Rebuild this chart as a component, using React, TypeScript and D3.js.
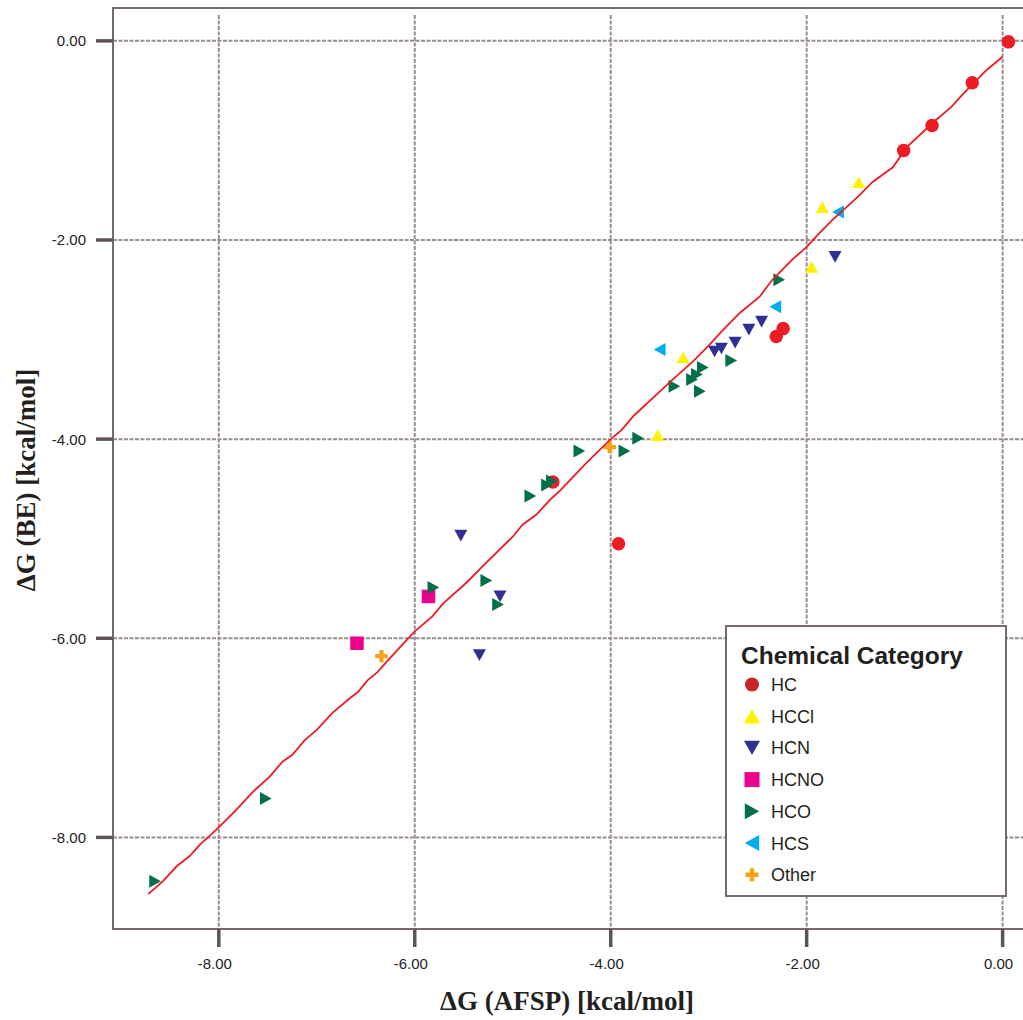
import React from "react";
import * as d3 from "d3";

const W = 1023;
const H = 1020;

// ---- data ----
const categories = ["HC", "HCCl", "HCN", "HCNO", "HCO", "HCS", "Other"];
const colors = ["#ec1c24", "#fff200", "#2e3192", "#ec008c", "#00704a", "#00aeef", "#f7a21b"];
const legendColors = ["#cc2229", "#fff200", "#2e3192", "#ec008c", "#00704a", "#00aeef", "#f7a21b"];
const symbolsKind = ["circle", "up", "down", "square", "right", "left", "plus"];

const hcX = [0.06, -0.31, -0.72, -1.01, -2.24, -2.31, -4.59, -3.92];
const hcY = [-0.01, -0.42, -0.85, -1.10, -2.89, -2.97, -4.43, -5.05];

const hcclX = [-1.47, -1.84, -1.95, -3.26, -3.52];
const hcclY = [-1.42, -1.67, -2.27, -3.18, -3.96];

const hcnX = [-1.71, -2.46, -2.59, -2.73, -2.87, -2.94, -5.53, -5.13, -5.34];
const hcnY = [-2.17, -2.82, -2.90, -3.03, -3.09, -3.12, -4.97, -5.58, -6.17];

const hcnoX = [-5.86, -6.59];
const hcnoY = [-5.58, -6.05];

const hcoX = [-8.65, -7.52, -5.81, -5.27, -5.15, -4.82, -4.65, -4.60, -4.32, -3.86, -3.72, -3.35, -3.17, -3.12, -3.06, -3.09, -2.77, -2.28];
const hcoY = [-8.44, -7.61, -5.49, -5.42, -5.66, -4.57, -4.46, -4.42, -4.12, -4.12, -3.99, -3.47, -3.40, -3.35, -3.28, -3.52, -3.21, -2.40];

const hcsX = [-3.50, -2.32, -1.68];
const hcsY = [-3.10, -2.67, -1.72];

const otherX = [-4.01, -6.34];
const otherY = [-4.08, -6.18];

const seriesX = [hcX, hcclX, hcnX, hcnoX, hcoX, hcsX, otherX];
const seriesY = [hcY, hcclY, hcnY, hcnoY, hcoY, hcsY, otherY];

// fitted curve
const fitX = [-8.72, -8.57, -8.43, -8.30, -8.19, -8.11, -7.99, -7.82, -7.65, -7.48, -7.35, -7.25, -7.12, -7.00, -6.84, -6.66, -6.58, -6.48, -6.38, -6.29, -6.15, -6.00, -5.82, -5.71, -5.47, -5.27, -5.00, -4.90, -4.76, -4.62, -4.52, -4.25, -4.01, -3.89, -3.76, -3.53, -3.40, -3.16, -2.99, -2.87, -2.68, -2.48, -2.35, -2.14, -2.00, -1.87, -1.74, -1.66, -1.46, -1.33, -1.12, -0.98, -0.71, -0.52, -0.41, -0.16, 0.00];
const fitY = [-8.57, -8.44, -8.29, -8.19, -8.07, -8.00, -7.89, -7.72, -7.54, -7.39, -7.24, -7.17, -7.02, -6.92, -6.75, -6.60, -6.54, -6.42, -6.34, -6.24, -6.09, -5.93, -5.78, -5.65, -5.44, -5.24, -4.98, -4.86, -4.76, -4.61, -4.52, -4.24, -4.01, -3.91, -3.76, -3.55, -3.43, -3.22, -3.05, -2.92, -2.73, -2.57, -2.40, -2.19, -2.07, -1.93, -1.80, -1.73, -1.55, -1.42, -1.27, -1.07, -0.82, -0.66, -0.54, -0.29, -0.16];

const xTicks = [-8, -6, -4, -2, 0];
const yTicks = [0, -2, -4, -6, -8];

// ---- layout ----
const left = 113;
const top = 8;
const bottom = 929;
const right = 1032;

const x = d3.scaleLinear().domain([-9.08, 0.3]).range([left, right]);
const y = d3.scaleLinear().domain([0.33, -8.92]).range([top, bottom]);

function symbolPath(kind: string, s: number): string {
  const h = s / 2;
  switch (kind) {
    case "circle":
      return `M${-h},0A${h},${h} 0 1,0 ${h},0A${h},${h} 0 1,0 ${-h},0Z`;
    case "up":
      return `M0,${-s * 0.45}L${h},${s * 0.45}L${-h},${s * 0.45}Z`;
    case "down":
      return `M0,${s * 0.45}L${h},${-s * 0.45}L${-h},${-s * 0.45}Z`;
    case "right":
      return `M${s * 0.45},0L${-s * 0.45},${h}L${-s * 0.45},${-h}Z`;
    case "left":
      return `M${-s * 0.45},0L${s * 0.45},${h}L${s * 0.45},${-h}Z`;
    case "square":
      return `M${-h},${-h}H${h}V${h}H${-h}Z`;
    case "plus": {
      const t = s * 0.17;
      return `M${-t},${-h}H${t}V${-t}H${h}V${t}H${t}V${h}H${-t}V${t}H${-h}V${-t}H${-t}Z`;
    }
  }
  return "";
}

const markSize: Record<string, number> = {
  circle: 13.5,
  up: 13,
  down: 13,
  right: 13,
  left: 13,
  square: 13.5,
  plus: 12.5,
};
const legendSize: Record<string, number> = {
  circle: 14,
  up: 16,
  down: 16,
  right: 16,
  left: 16,
  square: 15,
  plus: 13,
};

export default function App() {
  const line = d3
    .line<number>()
    .x((_, i) => x(fitX[i]))
    .y((_, i) => y(fitY[i]))
    .curve(d3.curveLinear);

  const gridColor = "#9a8e8d";
  const frameColor = "#766b6a";
  const tickColor = "#5e5453";

  const legX = 726;
  const legY = 626;
  const legW = 280;
  const legH = 270;

  return (
    <div style={{ position: "absolute", left: 0, top: 0 }}>
      <svg width={W} height={H} style={{ display: "block", background: "#fff" }}>
        {/* gridlines */}
        {xTicks.map((t) => (
          <line
            key={"gx" + t}
            x1={x(t)}
            x2={x(t)}
            y1={top + 7}
            y2={bottom}
            stroke={gridColor}
            strokeWidth={2}
            strokeDasharray="4,1.5"
          />
        ))}
        {yTicks.map((t) => (
          <line
            key={"gy" + t}
            x1={left}
            x2={right}
            y1={y(t)}
            y2={y(t)}
            stroke={gridColor}
            strokeWidth={2}
            strokeDasharray="4,1.5"
          />
        ))}

        {/* frame */}
        <rect
          x={left}
          y={top}
          width={right - left}
          height={bottom - top}
          fill="none"
          stroke={frameColor}
          strokeWidth={2}
        />

        {/* ticks */}
        {yTicks.map((t) => (
          <g key={"ty" + t}>
            <line x1={96} x2={left} y1={y(t)} y2={y(t)} stroke={tickColor} strokeWidth={3.5} />
            <text
              x={86}
              y={y(t) + 5.5}
              textAnchor="end"
              fontFamily="'Liberation Sans', Arial, sans-serif"
              fontSize={15}
              fill="#222"
            >
              {t.toFixed(2)}
            </text>
          </g>
        ))}
        {xTicks.map((t) => (
          <g key={"tx" + t}>
            <line x1={x(t)} x2={x(t)} y1={bottom} y2={bottom + 18} stroke={tickColor} strokeWidth={3.5} />
            <text
              x={x(t) - 4}
              y={969}
              textAnchor="middle"
              fontFamily="'Liberation Sans', Arial, sans-serif"
              fontSize={15}
              fill="#222"
            >
              {t.toFixed(2)}
            </text>
          </g>
        ))}

        {/* axis titles */}
        <text
          x={567}
          y={1010}
          textAnchor="middle"
          fontFamily="'Liberation Serif', 'Times New Roman', serif"
          fontWeight="bold"
          fontSize={27}
          fill="#231f20"
        >
          ΔG (AFSP) [kcal/mol]
        </text>
        <text
          transform="translate(35,480) rotate(-90)"
          textAnchor="middle"
          fontFamily="'Liberation Serif', 'Times New Roman', serif"
          fontWeight="bold"
          fontSize={27}
          fill="#231f20"
        >
          ΔG (BE) [kcal/mol]
        </text>

        {/* points */}
        {categories.map((c, ci) => (
          <g key={c}>
            {seriesX[ci].map((vx, i) => (
              <path
                key={i}
                d={symbolPath(symbolsKind[ci], markSize[symbolsKind[ci]])}
                transform={`translate(${x(vx)},${y(seriesY[ci][i])})`}
                fill={colors[ci]}
              />
            ))}
          </g>
        ))}

        {/* fitted line */}
        <path d={line(fitX) || ""} fill="none" stroke="#ed1c24" strokeWidth={1.8} />

        {/* legend */}
        <rect x={legX} y={legY} width={legW} height={legH} fill="#fff" stroke={frameColor} strokeWidth={2} />
        <text
          x={741}
          y={664}
          fontFamily="'Liberation Sans', Arial, sans-serif"
          fontWeight="bold"
          fontSize={24.5}
          fill="#231f20"
        >
          Chemical Category
        </text>
        {categories.map((c, ci) => {
          const cy = 684.5 + ci * 31.7;
          return (
            <g key={"leg" + c}>
              <path
                d={symbolPath(symbolsKind[ci], legendSize[symbolsKind[ci]])}
                transform={`translate(752,${cy})`}
                fill={legendColors[ci]}
              />
              <text
                x={771}
                y={cy + 6.5}
                fontFamily="'Liberation Sans', Arial, sans-serif"
                fontSize={18}
                fill="#231f20"
              >
                {c}
              </text>
            </g>
          );
        })}
      </svg>
    </div>
  );
}
